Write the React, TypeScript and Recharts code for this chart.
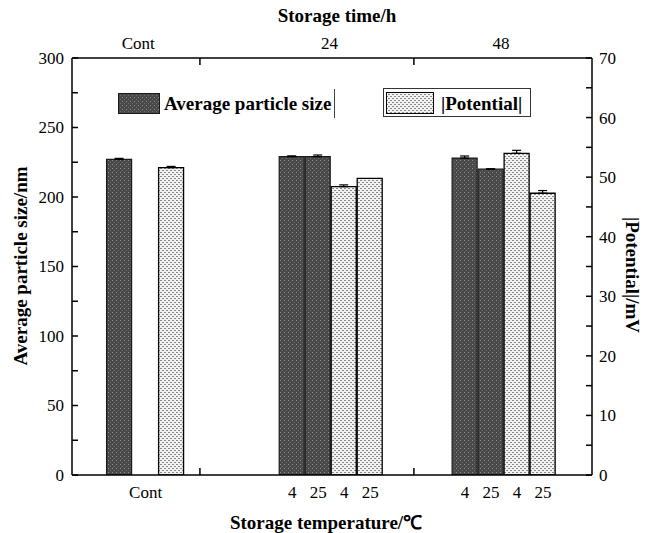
import React from "react"
import { BarChart, Bar, XAxis, YAxis, ErrorBar } from "recharts"

// bar slots on the x axis (category units, left to right)
const barPos = [1.83, 3.83, 8.47, 9.47, 10.47, 11.47, 15.12, 16.12, 17.12, 18.12]
const particleSize = [227, null, 229, 229, null, null, 228, 220, null, null]
const particleSizeErr = [0.8, null, 0.6, 1.2, null, null, 1.5, 0.3, null, null]
const potential = [null, 51.6, null, null, 48.4, 49.8, null, null, 54.0, 47.3]
const potentialErr = [null, 0.2, null, null, 0.3, null, null, null, 0.5, 0.45]

const tempLabels = ["Cont", "4", "25", "4", "25", "4", "25", "4", "25"]
const tempLabelPos = [2.83, 8.47, 9.47, 10.47, 11.47, 15.12, 16.12, 17.12, 18.12]
const timeLabels = ["Cont", "24", "48"]
const timeLabelPos = [2.55, 9.9, 16.5]
const groupDividers = [4.92, 13.15]

const sizeTicks = [0, 25, 50, 75, 100, 125, 150, 175, 200, 225, 250, 275, 300]
const potentialTicks = [0, 5, 10, 15, 20, 25, 30, 35, 40, 45, 50, 55, 60, 65, 70]

const serif = '"Liberation Serif", "Times New Roman", serif'

const data = barPos.map((x, i) => ({
  x,
  size: particleSize[i],
  sizeErr: particleSizeErr[i] != null ? [0, particleSizeErr[i]] : null,
  potential: potential[i],
  potentialErr: potentialErr[i] != null ? [0, potentialErr[i]] : null,
}))

const axisStroke = { stroke: "#000", strokeWidth: 1.5 }

function LeftTick(props: any) {
  const { x, y, payload } = props
  if (payload.value % 50 !== 0) return <g />
  return (
    <text x={x} y={y} dy="0.35em" textAnchor="end" fontSize={17} fontFamily={serif} fill="#000">
      {payload.value}
    </text>
  )
}

function RightTick(props: any) {
  const { x, y, payload } = props
  if (payload.value % 10 !== 0) return <g />
  return (
    <text x={x} y={y} dy="0.35em" textAnchor="start" fontSize={17} fontFamily={serif} fill="#000">
      {payload.value}
    </text>
  )
}

function BottomTick(props: any) {
  const { x, y, payload } = props
  const i = tempLabelPos.indexOf(payload.value)
  if (i < 0) {
    return <line x1={x} x2={x} y1={y - 10} y2={y - 17} stroke="#000" strokeWidth={1.5} />
  }
  return (
    <text x={x} y={y} dy="0.75em" textAnchor="middle" fontSize={17} fontFamily={serif} fill="#000">
      {tempLabels[i]}
    </text>
  )
}

function TopTick(props: any) {
  const { x, y, payload } = props
  const i = timeLabelPos.indexOf(payload.value)
  if (i < 0) {
    return <line x1={x} x2={x} y1={y + 9} y2={y + 16} stroke="#000" strokeWidth={1.5} />
  }
  return (
    <text x={x} y={y} textAnchor="middle" fontSize={17} fontFamily={serif} fill="#000">
      {timeLabels[i]}
    </text>
  )
}

const titleStyle: React.CSSProperties = {
  position: "absolute",
  fontFamily: serif,
  fontWeight: "bold",
  fontSize: 19,
  whiteSpace: "nowrap",
  color: "#000",
  lineHeight: 1,
}

export default function App() {
  return (
    <div style={{ position: "absolute", left: 0, top: 0, width: 645, height: 533, background: "#fff" }}>
      <BarChart
        width={645}
        height={533}
        data={data}
        margin={{ top: 28, right: 23, bottom: 28, left: 32 }}
        barGap={-25}
      >
        <defs>
          <pattern id="darkPat" width="4" height="4" patternUnits="userSpaceOnUse">
            <rect width="4" height="4" fill="#4a4a4a" />
            <rect x="0" y="0" width="1" height="1" fill="#8e8e8e" />
            <rect x="2" y="2" width="1" height="1" fill="#6e6e6e" />
          </pattern>
          <pattern id="lightPat" width="4" height="4" patternUnits="userSpaceOnUse">
            <rect width="4" height="4" fill="#f2f2f2" />
            <rect x="0" y="0" width="2" height="1" fill="#8a8a8a" />
            <rect x="2" y="2" width="2" height="1" fill="#8a8a8a" />
          </pattern>
        </defs>
        <XAxis
          xAxisId="bottom"
          dataKey="x"
          type="number"
          domain={[0, 20]}
          allowDataOverflow
          ticks={[...tempLabelPos, ...groupDividers]}
          interval={0}
          tick={<BottomTick />}
          tickLine={false}
          tickSize={0}
          tickMargin={10}
          height={30}
          axisLine={axisStroke}
        />
        <XAxis
          xAxisId="top"
          dataKey="x"
          orientation="top"
          type="number"
          domain={[0, 20]}
          allowDataOverflow
          ticks={[...timeLabelPos, ...groupDividers]}
          interval={0}
          tick={<TopTick />}
          tickLine={false}
          tickSize={0}
          tickMargin={9}
          height={30}
          axisLine={axisStroke}
        />
        <YAxis
          yAxisId="left"
          domain={[0, 300]}
          allowDataOverflow
          ticks={sizeTicks}
          interval={0}
          tick={<LeftTick />}
          tickLine={axisStroke}
          tickSize={-6}
          tickMargin={14}
          width={40}
          axisLine={axisStroke}
        />
        <YAxis
          yAxisId="right"
          orientation="right"
          domain={[0, 70]}
          allowDataOverflow
          ticks={potentialTicks}
          interval={0}
          tick={<RightTick />}
          tickLine={axisStroke}
          tickSize={-6}
          tickMargin={13}
          width={30}
          axisLine={axisStroke}
        />
        <Bar
          dataKey="size"
          xAxisId="bottom"
          yAxisId="left"
          fill="url(#darkPat)"
          stroke="#1a1a1a"
          strokeWidth={1.2}
          barSize={25}
          isAnimationActive={false}
        >
          <ErrorBar dataKey="sizeErr" width={4.5} stroke="#000" strokeWidth={1.2} direction="y" />
        </Bar>
        <Bar
          dataKey="potential"
          xAxisId="bottom"
          yAxisId="right"
          fill="url(#lightPat)"
          stroke="#000"
          strokeWidth={1.3}
          barSize={25}
          isAnimationActive={false}
        >
          <ErrorBar dataKey="potentialErr" width={4.5} stroke="#000" strokeWidth={1.2} direction="y" />
        </Bar>
      </BarChart>

      {/* legend */}
      <svg style={{ position: "absolute", left: 118, top: 93 }} width={42} height={21}>
        <rect x={0.5} y={0.5} width={41} height={20} fill="url(#darkPat)" stroke="#1a1a1a" />
      </svg>
      <div style={{ ...titleStyle, left: 164, top: 94 }}>Average particle size</div>
      <div style={{ position: "absolute", left: 334, top: 89, width: 1, height: 29, background: "#444" }} />
      <div style={{ position: "absolute", left: 383, top: 88, width: 148, height: 29, border: "1px solid #333", boxSizing: "border-box" }} />
      <svg style={{ position: "absolute", left: 386, top: 92 }} width={48} height={22}>
        <rect x={0.5} y={0.5} width={47} height={21} fill="url(#lightPat)" stroke="#000" />
      </svg>
      <div style={{ ...titleStyle, left: 441, top: 94 }}>|Potential|</div>

      {/* axis titles */}
      <div style={{ ...titleStyle, left: 337, top: 15, transform: "translate(-50%, -50%)" }}>Storage time/h</div>
      <div style={{ ...titleStyle, left: 326, top: 522, transform: "translate(-50%, -50%)" }}>Storage temperature/℃</div>
      <div style={{ ...titleStyle, left: 20, top: 266, transform: "translate(-50%, -50%) rotate(-90deg)" }}>
        Average particle size/nm
      </div>
      <div style={{ ...titleStyle, left: 632, top: 275, transform: "translate(-50%, -50%) rotate(90deg)" }}>
        |Potential|/mV
      </div>
    </div>
  )
}
